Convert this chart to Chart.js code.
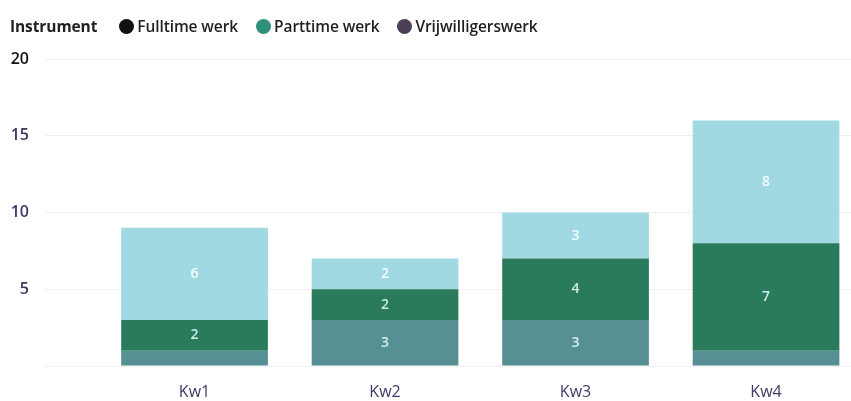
<!DOCTYPE html>
<html>
<head>
<meta charset="utf-8">
<script src="https://cdn.jsdelivr.net/npm/chart.js@4"></script>
<style>
  html, body { margin: 0; padding: 0; background: #fff; overflow: hidden; }
  #wrap { position: relative; width: 851px; height: 401px; }
  #legend {
    position: absolute; left: 10px; top: 15px;
    display: flex; align-items: center;
    font-family: "Open Sans", sans-serif; font-size: 15.5px; font-weight: 600;
    color: #1f1f1f; letter-spacing: -0.1px;
  }
  #legend .title { font-weight: 700; margin-right: 22px; }
  #legend .item { display: flex; align-items: center; margin-right: 18px; }
  #legend .dot { width: 15px; height: 15px; border-radius: 50%; margin-right: 3px; }
</style>
</head>
<body>
<div id="wrap">
  <div id="legend"></div>
  <canvas id="chart" width="851" height="401"></canvas>
</div>
<script>
const kwartalen = ["Kw1", "Kw2", "Kw3", "Kw4"];
const fulltime = [1, 3, 3, 1];
const parttime = [2, 2, 4, 7];
const vrijwilligers = [6, 2, 3, 8];
const yTicks = [0, 5, 10, 15, 20];

const legendTitle = "Instrument";
const legendItems = [
  { label: "Fulltime werk", color: "#111111" },
  { label: "Parttime werk", color: "#2f8f78" },
  { label: "Vrijwilligerswerk", color: "#4a3f55" },
];

// legend as html, colors as in the report
const legendEl = document.getElementById("legend");
legendEl.innerHTML = '<span class="title">' + legendTitle + "</span>" +
  legendItems.map((it) =>
    '<span class="item"><span class="dot" style="background:' + it.color + '"></span>' + it.label + "</span>"
  ).join("");

// white value labels inside the segments
const segmentLabels = {
  id: "segmentLabels",
  afterDatasetsDraw(chart) {
    const ctx = chart.ctx;
    ctx.save();
    ctx.font = "600 14px 'Open Sans', sans-serif";
    ctx.textAlign = "center";
    ctx.textBaseline = "middle";
    chart.data.datasets.forEach((ds, i) => {
      chart.getDatasetMeta(i).data.forEach((bar, j) => {
        const v = ds.data[j].y;
        if (v < 2) return;
        ctx.fillStyle = ds.labelColor;
        ctx.fillText(String(v), bar.x, (bar.y + bar.base) / 2);
      });
    });
    ctx.restore();
  },
};

const toPoints = (arr) => arr.map((v, i) => ({ x: i, y: v }));

new Chart(document.getElementById("chart"), {
  type: "bar",
  data: {
    datasets: [
      { label: "Fulltime werk", data: toPoints(fulltime), backgroundColor: "#568f94", labelColor: "#d4eef0" },
      { label: "Parttime werk", data: toPoints(parttime), backgroundColor: "#2a7a5c", labelColor: "#cdeaee" },
      { label: "Vrijwilligerswerk", data: toPoints(vrijwilligers), backgroundColor: "#a0d9e2", labelColor: "#f4fbfc" },
    ],
  },
  options: {
    responsive: false,
    animation: false,
    layout: { padding: { top: 59, right: 0, bottom: 0, left: 0 } },
    plugins: { legend: { display: false }, tooltip: { enabled: false } },
    datasets: { bar: { barPercentage: 0.77, categoryPercentage: 1 } },
    scales: {
      x: {
        type: "linear",
        stacked: true,
        offset: false,
        min: -0.785,
        max: 3.446,
        grid: { display: false },
        border: { display: false },
        afterBuildTicks(scale) {
          scale.ticks = kwartalen.map((_, i) => ({ value: i }));
        },
        afterFit(scale) { scale.height = 35; },
        ticks: {
          padding: 9,
          color: "#3d3a66",
          font: { family: "'Open Sans', sans-serif", size: 16 },
          callback: (v) => kwartalen[v],
        },
      },
      y: {
        stacked: true,
        min: 0,
        max: 20,
        afterBuildTicks(scale) {
          scale.ticks = yTicks.map((v) => ({ value: v }));
        },
        afterFit(scale) { scale.width = 45; },
        grid: { color: "#efefef", drawTicks: false },
        border: { display: false },
        ticks: {
          padding: 16,
          color: (c) => (c.tick.value === 20 ? "#111111" : "#3d3a66"),
          font: { family: "'Open Sans', sans-serif", size: 16, weight: "600" },
          callback: (v) => (v === 0 ? "" : v),
        },
      },
    },
  },
  plugins: [segmentLabels],
});
</script>
</body>
</html>
